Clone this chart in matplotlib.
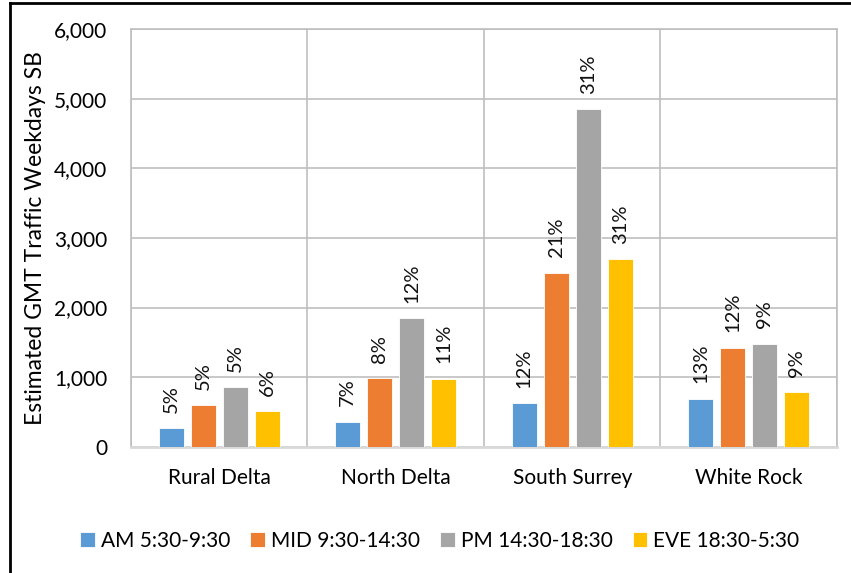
import numpy as np
import matplotlib
matplotlib.use("Agg")
import matplotlib.pyplot as plt
from matplotlib.lines import Line2D
from matplotlib.ticker import FuncFormatter

plt.rcParams['font.family'] = ['Lato', 'DejaVu Sans']

areas = ['Rural Delta', 'North Delta', 'South Surrey', 'White Rock']
periods = ['AM 5:30-9:30', 'MID 9:30-14:30', 'PM 14:30-18:30', 'EVE 18:30-5:30']
colors = ['#5B9BD5', '#ED7D31', '#A5A5A5', '#FFC000']

# traffic per period, one list per area column order
am = [270, 360, 630, 690]
mid = [600, 990, 2500, 1425]
pm = [860, 1850, 4850, 1480]
eve = [510, 980, 2700, 790]
values = [am, mid, pm, eve]

am_pct = ['5%', '7%', '12%', '13%']
mid_pct = ['5%', '8%', '21%', '12%']
pm_pct = ['5%', '12%', '31%', '9%']
eve_pct = ['6%', '11%', '31%', '9%']
pct_labels = [am_pct, mid_pct, pm_pct, eve_pct]

fig = plt.figure(figsize=(8.51, 5.73), dpi=100)
ax = fig.add_axes([0.1539, 0.2202, 0.8296, 0.7292])

x = np.arange(len(areas))
pitch = 0.1813
width = 0.1416
for i in range(4):
    pos = x + (i - 1.5) * pitch
    ax.bar(pos, values[i], width, color=colors[i], edgecolor='white',
           linewidth=0.6, label=periods[i], zorder=3)
    for xp, v, t in zip(pos, values[i], pct_labels[i]):
        ax.annotate(t, (xp, v), xytext=(0, 11), textcoords='offset points',
                    rotation=90, ha='center', va='bottom', fontsize=14.5,
                    color='#111111')

ax.set_xlim(-0.5, 3.5)
ax.set_ylim(0, 6000)
ax.set_yticks(np.arange(0, 6001, 1000))
ax.yaxis.set_major_formatter(FuncFormatter(lambda v, p: f'{int(v):,}'))
ax.set_xticks(x)
ax.set_xticklabels(areas)
ax.set_xticks(np.arange(-0.5, 4, 1), minor=True)
ax.tick_params(axis='both', which='both', length=0, labelsize=15)
ax.tick_params(axis='x', pad=15)
ax.tick_params(axis='y', pad=17)
ax.grid(axis='y', color='#BFBFBF', linewidth=1.2, zorder=0)
ax.grid(axis='x', which='minor', color='#BFBFBF', linewidth=1.2, zorder=0)
for s in ax.spines.values():
    s.set_color('#BFBFBF')
    s.set_linewidth(1.2)
ax.spines['bottom'].set_color('#D9D9D9')
ax.spines['bottom'].set_linewidth(2)

ax.set_ylabel('Estimated GMT Traffic Weekdays SB', fontsize=16.5, labelpad=6)

fig.legend(loc='center', bbox_to_anchor=(440 / 851, 1 - 541 / 573), ncol=4,
           frameon=False, fontsize=15, handlelength=0.7, handleheight=0.7,
           handletextpad=0.3, columnspacing=0.95)

# outer frame
fig.add_artist(Line2D([10 / 851, 10 / 851], [0, 1 - 3 / 573], color='black',
                      linewidth=2, transform=fig.transFigure))
fig.add_artist(Line2D([10 / 851, 1], [1 - 3 / 573, 1 - 3 / 573], color='black',
                      linewidth=2, transform=fig.transFigure))

fig.savefig('out.png', dpi=100)
